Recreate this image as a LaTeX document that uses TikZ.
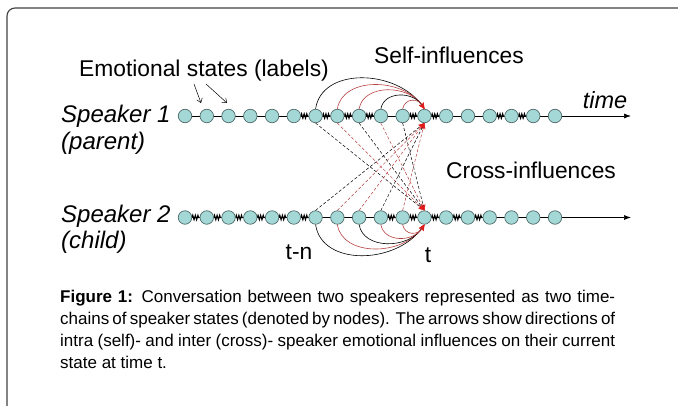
\documentclass[tikz,border=0pt]{standalone}
\usepackage{fontspec}
\setmainfont{Liberation Sans}
\usetikzlibrary{arrows.meta,decorations.pathmorphing,backgrounds}
\definecolor{nodefill}{HTML}{A3D8D6}
\definecolor{nodeedge}{HTML}{4F6B6B}
\definecolor{arcred}{HTML}{B84040}
\definecolor{headred}{HTML}{E01B1B}
\begin{document}
\begin{tikzpicture}[x=1pt,y=-1pt,
  st/.style={circle,draw=nodeedge,fill=nodefill,line width=0.7pt,minimum size=13.5pt,inner sep=0pt},
  lbl/.style={font=\fontsize{22.8}{26}\selectfont,inner sep=0pt},
  spk/.style={font=\fontsize{24}{28}\selectfont\itshape,inner sep=0pt,anchor=west},
  captext/.style={font=\fontsize{17}{22}\selectfont,inner sep=0pt,anchor=base west},
  axis/.style={line width=0.7pt,-{Latex[length=7pt,width=5pt]}},
  squig/.style={line width=1.1pt,decorate,decoration={zigzag,segment length=2.6pt,amplitude=2.2pt}},
  selfarc/.style={line width=0.6pt,-{Stealth[length=6pt,width=5pt,color=headred]}},
  cross/.style={line width=0.5pt,dash pattern=on 3pt off 2pt,-{Stealth[length=6pt,width=5pt,color=headred]}},
  lblarrow/.style={line width=0.5pt,-{Straight Barb[length=4pt,width=6pt]}}]
\useasboundingbox (0,0) rectangle (678,406);
\draw[line width=1.1pt,black!75,rounded corners=8pt] (7,406) -- (7,8) -- (678,8);

\foreach \i in {0,...,17} {
  \node[st] (a\i) at ({185+21.765*\i},116) {};
  \node[st] (b\i) at ({185+21.765*\i},217.5) {};
}
\coordinate (aend) at (631,116);
\coordinate (bend) at (631,217.5);

\begin{scope}[on background layer]
  \draw[axis] (a0) -- (aend);
  \draw[axis] (b0) -- (bend);
  \foreach \i/\j in {5/6,6/7,7/8,8/9,10/11,11/12,14/15,15/16}
    \draw[squig] (a\i.east) -- (a\j.west);
  \foreach \i/\j in {0/1,1/2,2/3,3/4,4/5,5/6,9/10,10/11,11/12,12/13,13/14}
    \draw[squig] (b\i.east) -- (b\j.west);
\end{scope}

% self influences, speaker 1
\draw[selfarc,black] (a6.north) .. controls +(6,-42) and +(-28,-40) .. (a11.north);
\draw[selfarc,arcred] (a7.north) .. controls +(5,-32) and +(-22,-32) .. (a11.north);
\draw[selfarc,arcred] (a8.north) .. controls +(4,-25) and +(-16,-25) .. (a11.north);
\draw[selfarc,black] (a9.north) .. controls +(3,-18) and +(-11,-18) .. (a11.north);
\draw[selfarc,arcred] (a10.north) .. controls +(2,-11) and +(-6,-11) .. (a11.north);
% self influences, speaker 2
\draw[selfarc,black] (b6.south) .. controls +(6,42) and +(-28,40) .. (b11.south);
\draw[selfarc,arcred] (b7.south) .. controls +(5,32) and +(-22,32) .. (b11.south);
\draw[selfarc,black] (b8.south) .. controls +(4,25) and +(-16,25) .. (b11.south);
\draw[selfarc,arcred] (b9.south) .. controls +(3,18) and +(-11,18) .. (b11.south);
\draw[selfarc,arcred] (b10.south) .. controls +(2,11) and +(-6,11) .. (b11.south);
% cross influences
\draw[cross,black] (a6.south) -- (b11.north);
\draw[cross,arcred] (a7.south) -- (b11.north);
\draw[cross,black] (a8.south) -- (b11.north);
\draw[cross,arcred] (a9.south) -- (b11.north);
\draw[cross,black] (a10.south) -- (b11.north);
\draw[cross,black] (b6.north) -- (a11.south);
\draw[cross,arcred] (b7.north) -- (a11.south);
\draw[cross,arcred] (b8.north) -- (a11.south);
\draw[cross,black] (b9.north) -- (a11.south);
\draw[cross,arcred] (b10.north) -- (a11.south);

% labels
\node[lbl] (self) at (449,55) {Self-influences};
\node[lbl] (emo) at (204,71) {Emotional states (labels)};
\coordinate (e1s) at (194,84);
\coordinate (e1e) at (201,103);
\coordinate (e2s) at (206,84);
\coordinate (e2e) at (227,103);
\draw[lblarrow] (e1s) -- (e1e);
\draw[lblarrow] (e2s) -- (e2e);
\node[spk] (sp1) at (61,116) {Speaker 1};
\node[spk] (par) at (61,143) {(parent)};
\node[lbl,font=\fontsize{23.5}{26}\selectfont\itshape] (time) at (605,100) {time};
\node[lbl] (crossl) at (531,170) {Cross-influences};
\node[spk] (sp2) at (61,216) {Speaker 2};
\node[spk] (chi) at (61,242) {(child)};
\node[lbl] (tn) at (299,252) {t-n};
\node[lbl] (tt) at (428,255) {t};

% caption
\node[captext] (c1) at (60,303) {\makebox[555pt][s]{\textbf{Figure 1:} Conversation between two speakers represented as two time-}};
\node[captext] (c2) at (60,325) {\makebox[555pt][s]{chains of speaker states (denoted by nodes). The arrows show directions of}};
\node[captext] (c3) at (60,347) {\makebox[555pt][s]{intra (self)- and inter (cross)- speaker emotional influences on their current}};
\node[captext] (c4) at (60,369) {state at time t.};
\end{tikzpicture}
\end{document}
